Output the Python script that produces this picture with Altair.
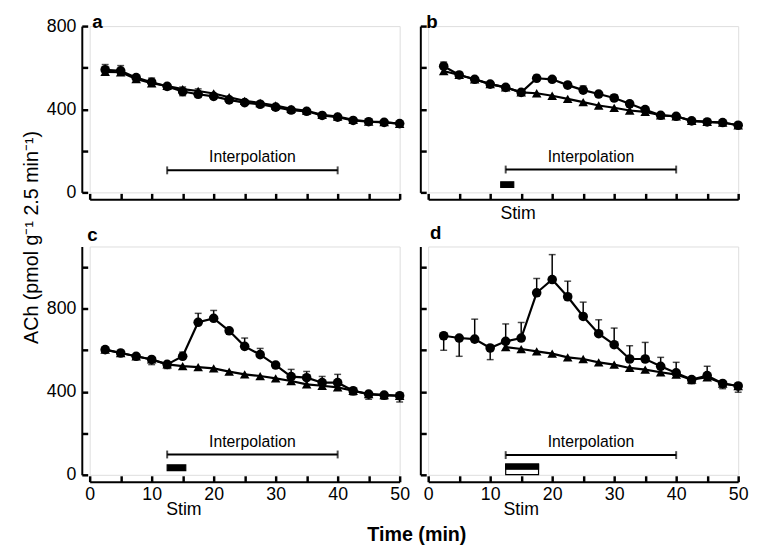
import altair as alt
import pandas as pd

FONT = "Liberation Sans"

TIME = [2.5, 5, 7.5, 10, 12.5, 15, 17.5, 20, 22.5, 25,
        27.5, 30, 32.5, 35, 37.5, 40, 42.5, 45, 47.5, 50]

# panel a
A_STIM = [590, 585, 552, 530, 510, 485, 472, 462, 445, 432, 424, 410, 396, 390, 370, 362, 346, 340, 337, 331]
A_STIM_ERR = [25, 25, 0, 20, -15, -20, -15, 0, -12, 0, 0, -15, -15, -12, 0, 0, 0, 0, 0, 0]
A_INTERP = [580, 578, 545, 525, 512, 497, 488, 476, 458, 440, 430, 418, 402, 393, 373, 365, 349, 341, 338, 330]
A_INTERP_ERR = [0, 0, 15, 15, 0, 10, 10, 0, 0, 0, 0, 0, 0, 0, 0, 0, 0, 0, 0, 0]

# panel b
B_STIM = [607, 565, 544, 521, 505, 481, 549, 544, 516, 492, 473, 454, 426, 398, 371, 366, 344, 339, 336, 323]
B_STIM_ERR = [20, 0, 0, -12, 0, 0, 15, 0, 15, 20, 0, 15, 12, 0, 0, 0, 0, -12, 0, -12]
B_INTERP = [584, 565, 544, 521, 505, 481, 477, 465, 450, 434, 418, 407, 394, 387, 371, 366, 344, 339, 336, 323]
B_INTERP_ERR = [0] * 20

# panel c
C_STIM = [603, 587, 571, 556, 532, 571, 735, 754, 694, 619, 579, 529, 473, 468, 444, 444, 405, 389, 384, 381]
C_STIM_ERR = [10, 0, 0, -25, -20, 20, 43, 38, 10, 40, 30, 12, 35, 30, 30, 40, -20, -25, -20, -30]
C_INTERP = [603, 587, 571, 556, 532, 524, 519, 513, 497, 484, 476, 465, 452, 436, 429, 421, 405, 389, 384, 381]
C_INTERP_ERR = [0] * 20

# panel d
D_STIM = [670, 659, 654, 611, 643, 659, 877, 941, 858, 763, 680, 627, 558, 558, 523, 491, 459, 478, 440, 428]
D_STIM_ERR = [-70, -88, 96, -56, 84, 75, 69, 120, 75, 69, 67, 80, 64, 80, 43, 51, -20, 45, -25, -30]
D_INTERP = [None, None, None, None, 615, 606, 595, 584, 566, 558, 542, 531, 515, 507, 494, 483, 459, 470, 440, 428]
D_INTERP_ERR = [0] * 20

X_TICKS = [0, 5, 10, 15, 20, 25, 30, 35, 40, 45, 50]
Y_TICKS_TOP = [0, 200, 400, 600, 800]
Y_TICKS_BOTTOM = [0, 200, 400, 600, 800, 1000]
INTERP_RANGE = [12.5, 40]

PANELS = {
    "a": dict(stim=A_STIM, stim_err=A_STIM_ERR, interp=A_INTERP, interp_err=A_INTERP_ERR,
              ymax=800, height=169, yticks=Y_TICKS_TOP, xlabels=False, ylabels=True,
              interp_y=106, bars=[], stim_text=None, letter=(0.4, 790)),
    "b": dict(stim=B_STIM, stim_err=B_STIM_ERR, interp=B_INTERP, interp_err=B_INTERP_ERR,
              ymax=800, height=169, yticks=Y_TICKS_TOP, xlabels=False, ylabels=False,
              interp_y=110, bars=[(11.7, 13.8, 24, 51, "black")], stim_text=(14.5, -104),
              letter=(-0.3, 790)),
    "c": dict(stim=C_STIM, stim_err=C_STIM_ERR, interp=C_INTERP, interp_err=C_INTERP_ERR,
              ymax=1100, height=232, yticks=Y_TICKS_BOTTOM, xlabels=True, ylabels=True,
              interp_y=98, bars=[(12.5, 15.5, 20, 48, "black")], stim_text=(15.2, -168),
              letter=(-0.4, 1127)),
    "d": dict(stim=D_STIM, stim_err=D_STIM_ERR, interp=D_INTERP, interp_err=D_INTERP_ERR,
              ymax=1100, height=232, yticks=Y_TICKS_BOTTOM, xlabels=True, ylabels=False,
              interp_y=95, bars=[(12.5, 17.8, 1, 52, "white"), (12.5, 17.8, 27, 52, "black")],
              stim_text=(15.0, -168), letter=(0.3, 1135)),
}

W = 315
X_OFF = 7      # px gap between y=0 and the x-axis line
Y_OFF = 8      # px gap between x=0 and the y-axis line
TICK_LEN = 6
TICK_COLOR = "black"


def panel(key, p):
    H = p["height"]
    ypx = p["ymax"] / H      # data units per pixel (y)
    xscale = alt.Scale(domain=[0, 50], nice=False, zero=False)
    yscale = alt.Scale(domain=[0, p["ymax"]], nice=False, zero=False)
    common = dict(labelFont=FONT, labelColor="black", labelFontSize=18, grid=False, title=None)
    # axis carrying the ticks (which point back up to the axis line) and labels
    x_tick_axis = alt.Axis(orient="bottom", values=X_TICKS, offset=X_OFF - TICK_LEN, tickSize=TICK_LEN,
                           ticks=True, tickWidth=2.5, tickColor=TICK_COLOR, tickOpacity=1, domain=False,
                           labels=p["xlabels"],
                           labelExpr="datum.value % 10 == 0 ? datum.label : ''",
                           labelPadding=4, labelFlush=False, **common)
    # axis carrying the axis line only
    x_line_axis = alt.Axis(orient="bottom", offset=X_OFF, ticks=False, labels=False, domain=True,
                           domainColor="black", domainWidth=2, **common)
    y_tick_axis = alt.Axis(orient="left", values=p["yticks"], offset=Y_OFF - TICK_LEN, tickSize=TICK_LEN,
                           ticks=True, tickWidth=2.5, tickColor=TICK_COLOR, tickOpacity=1, domain=False,
                           labels=p["ylabels"],
                           labelExpr="datum.value % 400 == 0 ? datum.label : ''",
                           labelPadding=6, **common)
    y_line_axis = alt.Axis(orient="left", offset=Y_OFF, ticks=False, labels=False, domain=True,
                           domainColor="black", domainWidth=2, **common)

    def X(f, axis=None):
        return alt.X(f, scale=xscale, axis=axis)

    def Y(f, axis=None):
        return alt.Y(f, scale=yscale, axis=axis)

    rows = []
    for series, vals, errs in (("interp", p["interp"], p["interp_err"]),
                               ("stim", p["stim"], p["stim_err"])):
        for t, v, e in zip(TIME, vals, errs):
            if v is None:
                continue
            rows.append(dict(t=t, v=v, end=v + e, err=e, series=series))
    df = pd.DataFrame(rows)
    di = df[df.series == "interp"]
    ds = df[df.series == "stim"]
    de = df[df.err != 0]

    layers = []
    layers.append(alt.Chart(di).mark_line(color="black", strokeWidth=2.2).encode(
        x=X("t:Q", x_tick_axis), y=Y("v:Q", y_tick_axis)))
    layers.append(alt.Chart(ds).mark_line(color="black", strokeWidth=2.2).encode(
        x=X("t:Q", x_line_axis), y=Y("v:Q", y_line_axis)))
    layers.append(alt.Chart(de).mark_rule(color="black", strokeWidth=1.5).encode(
        x=X("t:Q"), y=Y("v:Q"), y2="end:Q"))
    layers.append(alt.Chart(de).mark_tick(color="black", orient="horizontal", size=7, thickness=1.5).encode(
        x=X("t:Q"), y=Y("end:Q")))
    layers.append(alt.Chart(di).mark_point(shape="triangle-up", filled=True, color="black", size=95, opacity=1).encode(
        x=X("t:Q"), y=Y("v:Q")))
    layers.append(alt.Chart(ds).mark_point(shape="circle", filled=True, color="black", size=95, opacity=1).encode(
        x=X("t:Q"), y=Y("v:Q")))

    # interpolation marker
    iy = p["interp_y"]
    dint = pd.DataFrame({"x1": [INTERP_RANGE[0]], "x2": [INTERP_RANGE[1]], "y": [iy],
                         "xm": [sum(INTERP_RANGE) / 2], "yt": [iy + 8 * ypx], "label": ["Interpolation"]})
    layers.append(alt.Chart(dint).mark_rule(color="black", strokeWidth=2).encode(
        x=X("x1:Q"), x2="x2:Q", y=Y("y:Q")))
    dcap = pd.DataFrame({"x": INTERP_RANGE, "y": [iy, iy]})
    layers.append(alt.Chart(dcap).mark_tick(color="black", orient="vertical", size=8, thickness=2).encode(
        x=X("x:Q"), y=Y("y:Q")))
    layers.append(alt.Chart(dint).mark_text(font=FONT, fontSize=16, color="black", baseline="alphabetic").encode(
        x=X("xm:Q"), y=Y("yt:Q"), text="label:N"))

    # stimulation bars
    if p["bars"]:
        dbar = pd.DataFrame([dict(x1=a, x2=b, y1=c, y2=d, fill=f) for a, b, c, d, f in p["bars"]])
        layers.append(alt.Chart(dbar).mark_rect(stroke="black", strokeWidth=1.2).encode(
            x=X("x1:Q"), x2="x2:Q", y=Y("y1:Q"), y2="y2:Q",
            fill=alt.Fill("fill:N", scale=None)))
    if p["stim_text"]:
        dst = pd.DataFrame({"x": [p["stim_text"][0]], "y": [p["stim_text"][1]], "label": ["Stim"]})
        layers.append(alt.Chart(dst).mark_text(font=FONT, fontSize=18, color="black", baseline="middle").encode(
            x=X("x:Q"), y=Y("y:Q"), text="label:N"))

    # panel letter
    dl = pd.DataFrame({"x": [p["letter"][0]], "y": [p["letter"][1]], "label": [key]})
    layers.append(alt.Chart(dl).mark_text(font=FONT, fontSize=19, fontWeight="bold", color="black",
                                          align="left", baseline="alphabetic").encode(
        x=X("x:Q"), y=Y("y:Q"), text="label:N"))

    return alt.layer(*layers).resolve_axis(x="independent", y="independent").properties(width=W, height=H)


charts = [panel(k, PANELS[k]) for k in ["a", "b", "c", "d"]]

grid = alt.concat(*charts, columns=2, spacing=alt.RowColnumber(row=0, column=8)).resolve_scale(
    x="independent", y="independent"
).properties(
    title=alt.TitleParams("Time (min)", orient="bottom", anchor="middle", font=FONT,
                          fontSize=20, fontWeight="bold", color="black", offset=6, dx=20)
)

chart = alt.hconcat(grid).properties(
    title=alt.TitleParams("ACh (pmol g⁻¹ 2.5 min⁻¹)", orient="left", anchor="middle", font=FONT,
                          fontSize=20, fontWeight="normal", color="black", offset=4, dx=42),
    padding={"left": 14, "top": 0, "right": 0, "bottom": 0},
).configure_view(stroke=None).configure_concat(spacing=8).configure(background="white")

chart.save("out.html", embed_options={"renderer": "svg", "actions": False})
